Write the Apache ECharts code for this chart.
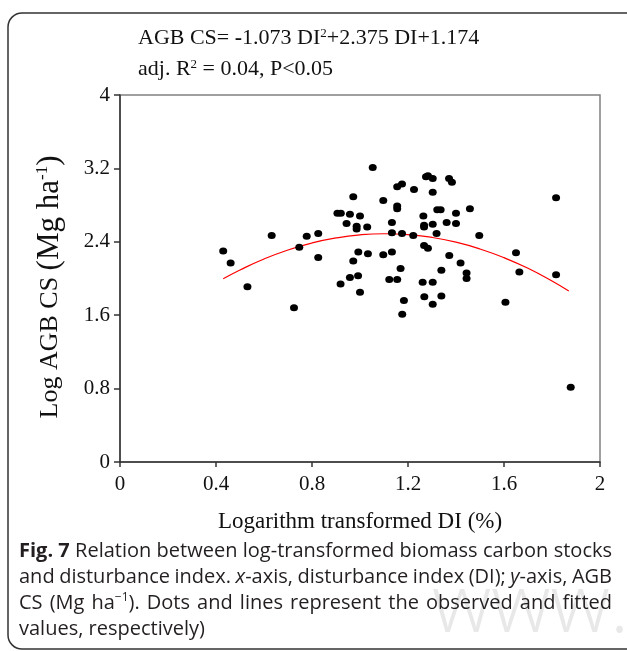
<!DOCTYPE html>
<html>
<head>
<meta charset="utf-8">
<title>Fig. 7</title>
<script src="https://cdn.jsdelivr.net/npm/echarts@6/dist/echarts.min.js"></script>
<style>
  html, body { margin: 0; padding: 0; background: #fff; }
  #chart { width: 627px; height: 651px; }
</style>
</head>
<body>
<div id="chart"></div>
<script>
// observed plots: log DI (x) vs log AGB CS (y)
var diObs = [0.430, 0.461, 0.531, 0.632, 0.725, 0.747, 0.778, 0.826, 0.826, 0.906,
  0.920, 0.919, 0.944, 0.958, 0.958, 0.972, 0.972, 0.986, 0.986, 0.992,
  0.993, 1.000, 1.000, 1.030, 1.033, 1.053, 1.097, 1.097, 1.122, 1.133,
  1.133, 1.133, 1.155, 1.155, 1.155, 1.155, 1.169, 1.175, 1.175, 1.176,
  1.183, 1.222, 1.225, 1.261, 1.264, 1.267, 1.267, 1.267, 1.268, 1.275,
  1.283, 1.303, 1.303, 1.283, 1.303, 1.303, 1.303, 1.319, 1.322, 1.336,
  1.339, 1.339, 1.361, 1.371, 1.383, 1.372, 1.400, 1.400, 1.419, 1.444,
  1.444, 1.458, 1.497, 1.606, 1.650, 1.664, 1.817, 1.817, 1.878]
var agbObs = [2.30, 2.17, 1.91, 2.47, 1.68, 2.34, 2.46, 2.49, 2.23, 2.71,
  2.71, 1.94, 2.60, 2.70, 2.01, 2.89, 2.19, 2.57, 2.54, 2.03,
  2.29, 2.68, 1.85, 2.56, 2.27, 3.21, 2.85, 2.26, 1.99, 2.61,
  2.50, 2.29, 3.00, 2.79, 2.76, 1.99, 2.11, 3.03, 2.49, 1.61,
  1.76, 2.47, 2.97, 1.96, 2.68, 2.58, 2.56, 2.36, 1.80, 3.11,
  3.12, 3.09, 2.94, 2.33, 2.59, 1.96, 1.72, 2.49, 2.75, 2.75,
  2.09, 1.81, 2.61, 3.09, 3.05, 2.25, 2.71, 2.60, 2.17, 2.06,
  2.00, 2.76, 2.47, 1.74, 2.28, 2.07, 2.88, 2.04, 0.815]

// fitted curve, values
var diFit = [0.43, 0.5, 0.6, 0.7, 0.8, 0.9, 1.0, 1.1, 1.2, 1.3, 1.4, 1.5, 1.6, 1.7, 1.8, 1.87]
var agbFit = [1.997, 2.093, 2.213, 2.311, 2.387, 2.442, 2.476, 2.488, 2.479, 2.448, 2.396, 2.322, 2.227, 2.111, 1.972, 1.863]

var xTicks = [0, 0.4, 0.8, 1.2, 1.6, 2]
var yTicks = [0, 0.8, 1.6, 2.4, 3.2, 4]

// caption, one array per printed line; {b|..} bold, {i|..} italic, {sup|..} superscript
var captionLines = [
  ['{b|Fig. 7}', 'Relation', 'between', 'log-transformed', 'biomass', 'carbon', 'stocks'],
  ['and', 'disturbance', 'index.', '{i|x}-axis,', 'disturbance', 'index', '(DI);', '{i|y}-axis,', 'AGB'],
  ['CS', '(Mg', 'ha{sup|\u22121}).', 'Dots', 'and', 'lines', 'represent', 'the', 'observed', 'and', 'fitted'],
  ['values,', 'respectively)']
]

var serif = 'Liberation Serif'
var sans = 'Open Sans'
var capSize = 20

var chart = echarts.init(document.getElementById('chart'))

var ctx = document.createElement('canvas').getContext('2d')
var capFonts = {
  n: capSize + 'px "' + sans + '"',
  b: 'bold ' + capSize + 'px "' + sans + '"',
  i: 'italic ' + capSize + 'px "' + sans + '"',
  sup: '12px "' + sans + '"'
}
function wordWidth(word) {
  var w = 0, m, re = /\{(\w+)\|([^}]*)\}|([^{]+)/g
  while ((m = re.exec(word))) {
    ctx.font = capFonts[m[1] || 'n']
    w += ctx.measureText(m[2] !== undefined ? m[2] : m[3]).width
  }
  return w
}

var capRich = {
  b: { fontWeight: 'bold', fontSize: capSize, fontFamily: sans, lineHeight: 24 },
  i: { fontStyle: 'italic', fontSize: capSize, fontFamily: sans, lineHeight: 24 },
  sup: { fontSize: 12, fontFamily: sans, verticalAlign: 'bottom', padding: [0, 0, 11, 0] }
}

// justify every caption line except the last one
var capLeft = 19, capRight = 612, capTop = 551, capStep = 26
var captionEls = []
captionLines.forEach(function (words, li) {
  var widths = words.map(wordWidth)
  var total = widths.reduce(function (a, b) { return a + b }, 0)
  ctx.font = capFonts.n
  var gap = li === captionLines.length - 1 ? ctx.measureText(' ').width
    : (capRight - capLeft - total) / (words.length - 1)
  var x = capLeft
  words.forEach(function (w, wi) {
    captionEls.push({
      type: 'text', x: x, y: capTop + li * capStep,
      style: {
        text: w, fontFamily: sans, fontSize: capSize, fill: '#231f20',
        lineHeight: 24, verticalAlign: 'middle', align: 'left', rich: capRich
      }
    })
    x += widths[wi] + gap
  })
})

var option = {
  animation: false,
  backgroundColor: '#fff',
  grid: {
    left: 120, top: 95, width: 480, height: 367,
    show: true, borderColor: '#808080', borderWidth: 1.5
  },
  xAxis: {
    type: 'value',
    min: xTicks[0], max: xTicks[xTicks.length - 1], interval: xTicks[1] - xTicks[0],
    axisLine: { lineStyle: { color: '#333', width: 1.5 } },
    axisTick: { length: 5, lineStyle: { color: '#333', width: 1.5 } },
    splitLine: { show: false },
    axisLabel: {
      fontFamily: serif, fontSize: 21, color: '#111', margin: 12,
      formatter: function (v) { return String(Number(v.toFixed(1))) }
    },
    name: 'Logarithm transformed DI (%)',
    nameLocation: 'middle', nameGap: 48,
    nameTextStyle: { fontFamily: serif, fontSize: 23, color: '#111' }
  },
  yAxis: {
    type: 'value',
    min: yTicks[0], max: yTicks[yTicks.length - 1], interval: yTicks[1] - yTicks[0],
    axisLine: { show: true, lineStyle: { color: '#333', width: 1.5 } },
    axisTick: { show: true, length: 6, lineStyle: { color: '#333', width: 1.5 } },
    splitLine: { show: false },
    axisLabel: {
      fontFamily: serif, fontSize: 21, color: '#111', margin: 10,
      formatter: function (v) { return String(Number(v.toFixed(1))) }
    }
  },
  graphic: [
    {
      type: 'rect', z: -1,
      shape: { x: 8, y: 13, width: 680, height: 636, r: 14 },
      style: { fill: 'none', stroke: '#333', lineWidth: 1.5 }
    },
    {
      type: 'text', x: 432, y: 568, z: -2,
      style: { text: 'www.k', fontFamily: sans, fontSize: 82, fontWeight: 300, fill: '#e8e8e8' }
    },
    {
      type: 'text', x: 138, y: 38,
      style: {
        text: 'AGB CS= {m|-}1.073 DI{s|2}+2.375 DI+1.174',
        fontFamily: serif, fontSize: 22, fill: '#111', lineHeight: 26, verticalAlign: 'middle',
        rich: {
          m: { fontFamily: serif, fontSize: 22, fontWeight: 'bold', lineHeight: 26 },
          s: { fontFamily: serif, fontSize: 13, verticalAlign: 'bottom', padding: [0, 0, 11, 0] }
        }
      }
    },
    {
      type: 'text', x: 138, y: 69,
      style: {
        text: 'adj. R{s|2} = 0.04, P<0.05',
        fontFamily: serif, fontSize: 22, fill: '#111', lineHeight: 26, verticalAlign: 'middle',
        rich: {
          s: { fontFamily: serif, fontSize: 13, verticalAlign: 'bottom', padding: [0, 0, 11, 0] }
        }
      }
    },
    {
      type: 'text', x: 50, y: 287, rotation: Math.PI / 2,
      style: {
        text: 'Log AGB CS {b|(Mg ha}{s|-1}{b|)}',
        fontFamily: serif, fontSize: 26, fill: '#111', lineHeight: 32,
        align: 'center', verticalAlign: 'middle',
        rich: {
          b: { fontFamily: serif, fontSize: 31, lineHeight: 32 },
          s: { fontFamily: serif, fontSize: 17, verticalAlign: 'bottom', padding: [0, 0, 15, 0] }
        }
      }
    }
  ].concat(captionEls),
  series: [
    {
      type: 'scatter',
      data: diObs.map(function (x, i) { return [x, agbObs[i]] }),
      symbol: 'circle',
      symbolSize: [8, 7],
      itemStyle: { color: '#000', opacity: 1 },
      z: 3
    },
    {
      type: 'line',
      data: diFit.map(function (x, i) { return [x, agbFit[i]] }),
      smooth: true,
      showSymbol: false,
      lineStyle: { color: '#ff0000', width: 1.2 },
      z: 2
    }
  ]
}
chart.setOption(option)
</script>
</body>
</html>
